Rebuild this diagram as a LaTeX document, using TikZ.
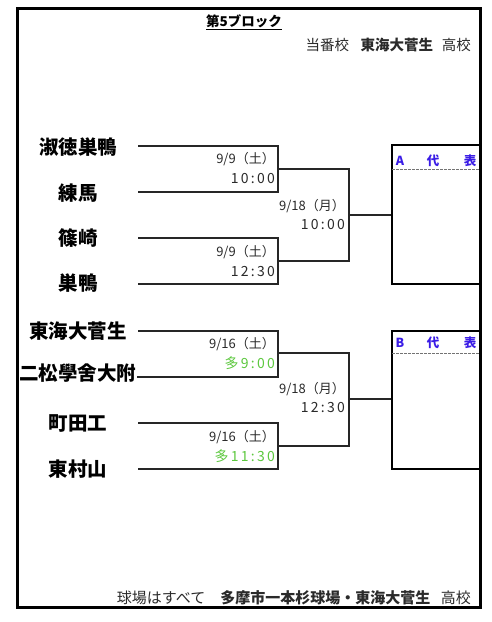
\documentclass[tikz,border=0pt]{standalone}
\usepackage{fontspec}
\setmainfont{Noto Sans CJK JP}
\newfontfamily\tmfont[LetterSpace=16]{Noto Sans CJK JP}
\definecolor{abblue}{HTML}{3A1CE6}
\definecolor{mgreen}{HTML}{5CC83E}
\definecolor{dtext}{HTML}{2A2A2A}
\tikzset{
  team/.style={font=\bfseries\fontsize{19.5}{20}\selectfont, inner sep=0pt, anchor=center},
  datel/.style={font=\fontsize{13}{13}\selectfont, text=dtext, inner sep=0pt, anchor=east},
  timel/.style={font=\tmfont\fontsize{14}{14}\selectfont, text=dtext, inner sep=0pt, anchor=east},
  gtime/.style={timel, text=mgreen},
  bline/.style={line width=1.3pt, draw=black!85},
  repbox/.style={line width=2.6pt, draw=black},
  reptext/.style={font=\bfseries\fontsize{12.5}{13}\selectfont, text=abblue, inner sep=0pt},
  note/.style={font=\fontsize{14.5}{15}\selectfont, text=dtext, inner sep=0pt},
}
\begin{document}
\begin{tikzpicture}[x=1pt,y=-1pt]
\useasboundingbox (0,0) rectangle (491,622);
\fill[white] (0,0) rectangle (491,622);
\draw[line width=3pt] (17,8) rectangle (480,607);

% title
\node[font=\bfseries\fontsize{13.5}{14}\selectfont, inner sep=0pt] (title) at (244,22) {\underline{第5ブロック}};
\node[note, anchor=east] (host) at (471,45) {当番校\hspace{0.8em}\textbf{東海大菅生}\hspace{0.6em}高校};

% teams
\node[team] (t1) at (78,147) {淑徳巣鴨};
\node[team] (t2) at (78,193) {練馬};
\node[team] (t3) at (78,238) {篠崎};
\node[team] (t4) at (78,283) {巣鴨};
\node[team] (t5) at (78,331) {東海大菅生};
\node[team] (t6) at (78,373) {二松學舍大附};
\node[team] (t7) at (78,423) {町田工};
\node[team] (t8) at (78,469) {東村山};

% line coordinates
\coordinate (l1) at (138,146); \coordinate (r1) at (278,146);
\coordinate (l2) at (138,192); \coordinate (r2) at (278,192);
\coordinate (l3) at (138,238); \coordinate (r3) at (278,238);
\coordinate (l4) at (138,284); \coordinate (r4) at (278,284);
\coordinate (l5) at (138,331); \coordinate (r5) at (278,331);
\coordinate (l6) at (137,377); \coordinate (r6) at (278,377);
\coordinate (l7) at (138,423); \coordinate (r7) at (278,423);
\coordinate (l8) at (138,469); \coordinate (r8) at (278,469);
\coordinate (q1) at (278,169); \coordinate (s1) at (349,169);
\coordinate (q2) at (278,261); \coordinate (s2) at (349,261);
\coordinate (q3) at (278,353); \coordinate (s3) at (349,353);
\coordinate (q4) at (278,446); \coordinate (s4) at (349,446);
\coordinate (f1) at (349,215);
\coordinate (f2) at (349,399);

% representative boxes
\node[repbox, rectangle, minimum width=88pt, minimum height=139pt, inner sep=0pt] (boxA) at (436,214.5) {};
\node[repbox, rectangle, minimum width=88pt, minimum height=138pt, inner sep=0pt] (boxB) at (436,400) {};

% first round
\draw[bline] (l1) -- (r1) -- (r2) -- (l2);
\draw[bline] (l3) -- (r3) -- (r4) -- (l4);
\draw[bline] (l5) -- (r5) -- (r6) -- (l6);
\draw[bline] (l7) -- (r7) -- (r8) -- (l8);
% second round
\draw[bline] (q1) -- (s1) -- (s2) -- (q2);
\draw[bline] (q3) -- (s3) -- (s4) -- (q4);
% to representative
\draw[bline] (f1) -- (f1 -| boxA.west);
\draw[bline] (f2) -- (f2 -| boxB.west);

% dates
\node[datel] (d1) at (275,159) {9/9（土）};
\node[timel] (h1) at (275,179) {10:00};
\node[datel] (d2) at (275,252) {9/9（土）};
\node[timel] (h2) at (275,272) {12:30};
\node[datel] (d3) at (345,206) {9/18（月）};
\node[timel] (h3) at (345,225) {10:00};
\node[datel] (d4) at (275,344) {9/16（土）};
\node[gtime] (h4) at (275,363) {多9:00};
\node[datel] (d5) at (275,437) {9/16（土）};
\node[gtime] (h5) at (275,456) {多11:30};
\node[datel] (d6) at (345,389) {9/18（月）};
\node[timel] (h6) at (345,408) {12:30};

% representative labels
\node[reptext] (aA) at (400,161) {A};
\node[reptext] (aD) at (433,161) {代};
\node[reptext] (aH) at (470,161) {表};
\draw[line width=0.8pt, draw=black!55, dash pattern=on 2.5pt off 1.5pt] ([xshift=1.3pt]boxA.west |- 0,169) -- (479,169);
\node[reptext] (bB) at (400,343) {B};
\node[reptext] (bD) at (433,343) {代};
\node[reptext] (bH) at (470,343) {表};
\draw[line width=0.8pt, draw=black!55, dash pattern=on 2.5pt off 1.5pt] ([xshift=1.3pt]boxB.west |- 0,353) -- (479,353);

% footer
\node[note, anchor=east, font=\fontsize{15}{15}\selectfont] (foot) at (471,598) {球場はすべて\hspace{1em}\textbf{多摩市一本杉球場・東海大菅生}\hspace{0.7em}高校};
\end{tikzpicture}
\end{document}
